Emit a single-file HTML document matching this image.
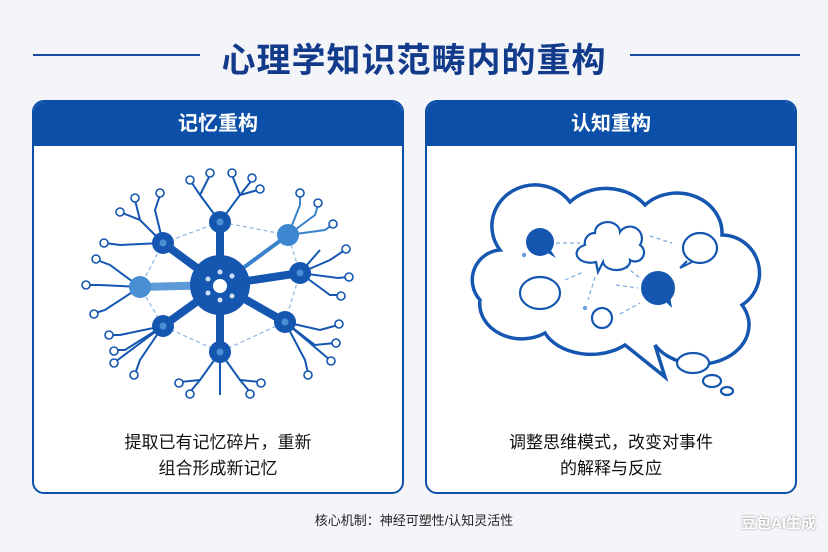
<!DOCTYPE html>
<html><head><meta charset="utf-8"><style>
body{margin:0;width:828px;height:552px;background:#f3f5f8;font-family:"Liberation Sans","Noto Sans CJK SC",sans-serif;position:relative;overflow:hidden}
.t{position:absolute;left:0;width:828px;top:33px;text-align:center;font-size:34px;font-weight:bold;color:#123b8c;letter-spacing:1px}
.ln{position:absolute;top:54px;height:2px;background:#1a4a9c}
.p{position:absolute;top:100px;width:372px;height:394px;border:2px solid #0b4fa8;border-radius:12px;background:#fff;overflow:hidden;box-sizing:border-box}
.h{height:44px;background:#0b4fa8;color:#fff;font-weight:bold;font-size:20px;text-align:center;line-height:44px}
.c{position:absolute;top:430px;width:372px;text-align:center;font-size:17px;line-height:26px;color:#111}
.f{position:absolute;top:510px;left:0;width:828px;text-align:center;font-size:13px;color:#222}
.w{position:absolute;right:12px;top:512px;color:#fff;font-weight:bold;font-size:15px;text-shadow:0 0 2px #888}
</style></head><body>
<div class="t">心理学知识范畴内的重构</div>
<div class="ln" style="left:33px;width:167px"></div>
<div class="ln" style="left:630px;width:170px"></div>
<div class="p" style="left:32px"><div class="h">记忆重构</div></div>
<div class="p" style="left:425px"><div class="h">认知重构</div></div>
<div class="c" style="left:32px">提取已有记忆碎片，重新<br>组合形成新记忆</div>
<div class="c" style="left:425px">调整思维模式，改变对事件<br>的解释与反应</div>
<div class="f">核心机制：神经可塑性/认知灵活性</div>
<div class="w">豆包AI生成</div>
<svg width="828" height="552" style="position:absolute;left:0;top:0">
<g stroke="#8db4e0" stroke-width="1.2" stroke-dasharray="4 3" fill="none">
<path d="M163 243 L220 222 L288 235 L300 273 L285 322 L220 352 L163 326 L140 287 Z"/>
</g>
<g stroke="#1456b0" stroke-width="2" fill="none">
<path d="M220 222 L200 195 L190 180 M200 195 L210 175 M220 222 L240 195 L232 175 M240 195 L252 180 M240 195 L258 190"/>
<path d="M163 243 L140 220 L120 212 M140 220 L135 200 M163 243 L155 210 L160 195 M163 243 L120 245 L105 243"/>
<path d="M140 287 L100 285 L88 285 M140 287 L110 265 L97 260 M140 287 L105 310 L95 313"/>
<path d="M163 326 L120 335 L110 335 M163 326 L125 350 L115 350 M163 326 L140 360 L135 374 M163 326 L115 362"/>
<path d="M220 352 L200 380 L180 382 M200 380 L190 392 M220 352 L240 380 L260 382 M240 380 L250 392 M220 352 L220 395"/>
<path d="M285 322 L320 330 L338 325 M285 322 L315 345 L335 343 M285 322 L305 360 L308 373 M285 322 L330 360"/>
<path d="M300 273 L330 260 L345 250 M300 273 L338 278 L348 277 M300 273 L330 295 L340 295 M300 273 L320 250"/>
<path d="M288 235 L300 205 L300 195 M288 235 L315 215 L318 205 M288 235 L325 230 L332 225" stroke="#3b82cc"/>
</g>
<g fill="#fff" stroke="#1456b0" stroke-width="1.6">
<circle cx="190" cy="180" r="4"/><circle cx="210" cy="173" r="4"/><circle cx="232" cy="173" r="4"/><circle cx="252" cy="178" r="4"/><circle cx="260" cy="189" r="4"/>
<circle cx="120" cy="212" r="4"/><circle cx="135" cy="198" r="4"/><circle cx="160" cy="193" r="4"/><circle cx="104" cy="243" r="4"/>
<circle cx="86" cy="285" r="4"/><circle cx="96" cy="259" r="4"/><circle cx="94" cy="314" r="4"/>
<circle cx="109" cy="335" r="4"/><circle cx="114" cy="351" r="4"/><circle cx="134" cy="375" r="4"/><circle cx="114" cy="363" r="4"/>
<circle cx="179" cy="383" r="4"/><circle cx="190" cy="394" r="4"/><circle cx="261" cy="383" r="4"/><circle cx="250" cy="394" r="4"/>
<circle cx="339" cy="324" r="4"/><circle cx="336" cy="343" r="4"/><circle cx="308" cy="375" r="4"/><circle cx="331" cy="361" r="4"/>
<circle cx="346" cy="249" r="4"/><circle cx="349" cy="277" r="4"/><circle cx="341" cy="296" r="4"/>
<circle cx="300" cy="193" r="4"/><circle cx="318" cy="203" r="4"/><circle cx="333" cy="224" r="4"/>
</g>
<g stroke="#1456b0" stroke-width="8" stroke-linecap="round">
<line x1="220" y1="285" x2="220" y2="222"/><line x1="220" y1="285" x2="163" y2="243"/><line x1="220" y1="285" x2="300" y2="273"/>
<line x1="220" y1="285" x2="285" y2="322"/><line x1="220" y1="285" x2="220" y2="352"/><line x1="220" y1="285" x2="163" y2="326"/>
<line x1="220" y1="285" x2="140" y2="287" stroke="#5c9ad8"/><line x1="220" y1="285" x2="288" y2="235" stroke="#3b82cc" stroke-width="4"/>
</g>
<circle cx="220" cy="285" r="30" fill="#1456b0"/>
<circle cx="220" cy="286" r="7" fill="#fff"/>
<g fill="#cfe0f5"><circle cx="208" cy="279" r="2.5"/><circle cx="232" cy="276" r="2.5"/><circle cx="208" cy="293" r="2.5"/><circle cx="232" cy="296" r="2.5"/><circle cx="220" cy="272" r="2.5"/><circle cx="220" cy="300" r="2.5"/></g>
<g fill="#1456b0"><circle cx="220" cy="222" r="11"/><circle cx="163" cy="243" r="11"/><circle cx="300" cy="273" r="11"/><circle cx="285" cy="322" r="11"/><circle cx="220" cy="352" r="11"/><circle cx="163" cy="326" r="11"/></g>
<circle cx="288" cy="235" r="11" fill="#3d86d0"/><circle cx="140" cy="287" r="11" fill="#4a8fd4"/>
<g fill="#4a8fd4"><circle cx="220" cy="222" r="3.5"/><circle cx="163" cy="243" r="3.5"/><circle cx="300" cy="273" r="3.5"/><circle cx="285" cy="322" r="3.5"/><circle cx="220" cy="352" r="3.5"/><circle cx="163" cy="326" r="3.5"/></g>

<path d="M500 250 A42 40 0 0 1 570 202 A48 40 0 0 1 645 205 A45 40 0 0 1 722 235 A38 38 0 0 1 742 305 A45 35 0 0 1 655 345 L665 377 L625 345 A50 35 0 0 1 545 333 A42 35 0 0 1 480 300 A30 30 0 0 1 500 250 Z" fill="#fff" stroke="#1456b0" stroke-width="3.5"/>
<g stroke="#7aaade" stroke-width="1.2" stroke-dasharray="4 3"><line x1="556" y1="243" x2="580" y2="243"/><line x1="650" y1="236" x2="672" y2="243"/><line x1="565" y1="280" x2="583" y2="272"/><line x1="595" y1="277" x2="588" y2="300"/><line x1="625" y1="266" x2="640" y2="278"/><line x1="616" y1="285" x2="638" y2="288"/><line x1="620" y1="314" x2="640" y2="303"/></g>
<circle cx="524" cy="255" r="2.2" fill="#6aa0dc"/><circle cx="585" cy="308" r="2.2" fill="#6aa0dc"/>
<circle cx="540" cy="242" r="14" fill="#1456b0"/><path d="M546 252 L556 258 L548 246Z" fill="#1456b0"/>
<circle cx="658" cy="288" r="17" fill="#1456b0"/><path d="M664 300 L672 308 L670 296Z" fill="#1456b0"/>
<g fill="#fff" stroke="#1456b0" stroke-width="2.2">
<ellipse cx="700" cy="248" rx="17" ry="15"/><ellipse cx="540" cy="293" rx="20" ry="16"/><circle cx="602" cy="318" r="10"/>
<path d="M585 245 A10 10 0 0 1 595 233 A12 10 0 0 1 620 232 A9 9 0 0 1 640 245 A9 9 0 0 1 630 260 A12 8 0 0 1 603 262 L598 272 L596 262 A12 8 0 0 1 585 245Z"/>
<ellipse cx="693" cy="363" rx="16" ry="10"/><ellipse cx="712" cy="381" rx="9" ry="6"/><ellipse cx="727" cy="391" rx="6" ry="4"/>
</g>
<path d="M687 261 L680 268 L692 262" fill="#fff" stroke="#1456b0" stroke-width="2"/>
</svg>
</body></html>
